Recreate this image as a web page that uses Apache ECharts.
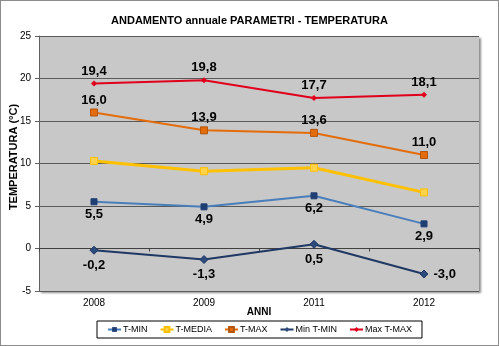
<!DOCTYPE html>
<html>
<head>
<meta charset="utf-8">
<script src="https://cdn.jsdelivr.net/npm/echarts@6/dist/echarts.min.js"></script>
<style>
  html, body { margin: 0; padding: 0; background: #fff; }
  #chart { width: 497px; height: 344px; border: 1px solid #8c8c8c; }
</style>
</head>
<body>
<div id="chart"></div>
<script>
// Annual temperature parameters (°C)
const anni = ['2008', '2009', '2011', '2012'];
const tMin = [5.5, 4.9, 6.2, 2.9];
const tMedia = [10.3, 9.1, 9.5, 6.6];
const tMax = [16.0, 13.9, 13.6, 11.0];
const minTMin = [-0.2, -1.3, 0.5, -3.0];
const maxTMax = [19.4, 19.8, 17.7, 18.1];
const yTicks = { min: -5, max: 25, step: 5 };

const FONT = 'Liberation Sans, Arial, sans-serif';
const fmt = p => p.value.toFixed(1).replace('.', ',');
const valueLabel = (position, distance) => ({
  show: true, position, distance, formatter: fmt,
  fontFamily: FONT, fontWeight: 'bold', fontSize: 13, color: '#000'
});

// The last Min T-MIN value sits at the right of its marker
const minTMinData = minTMin.map((v, i) => i === minTMin.length - 1
  ? { value: v, label: { position: 'right', distance: 5 } }
  : v);

const chart = echarts.init(document.getElementById('chart'));
chart.setOption({
  animation: false,
  backgroundColor: '#fff',
  textStyle: { fontFamily: FONT },
  title: {
    text: 'ANDAMENTO annuale PARAMETRI - TEMPERATURA',
    left: 'center', top: 9,
    textStyle: { fontFamily: FONT, fontWeight: 'bold', fontSize: 11, color: '#000' }
  },
  // vertical axis title, placed beside the value axis
  graphic: [{
    type: 'text', x: 13, y: 156, rotation: Math.PI / 2,
    style: {
      text: 'TEMPERATURA (°C)', fill: '#000',
      font: 'bold 11px Liberation Sans, Arial, sans-serif',
      align: 'center', verticalAlign: 'middle'
    }
  }],
  grid: {
    left: 38, right: 19, top: 35, bottom: 54,
    outerBoundsMode: 'none', containLabel: false,
    show: true, backgroundColor: '#c8c8c8', borderWidth: 0,
    shadowColor: 'rgba(0,0,0,0.45)', shadowBlur: 2, shadowOffsetX: 2, shadowOffsetY: 2
  },
  legend: {
    bottom: 7, left: 96,
    padding: [4, 10, 4, 10],
    borderColor: '#000', borderWidth: 1,
    itemWidth: 13, itemHeight: 6, itemGap: 12,
    textStyle: { fontFamily: FONT, fontSize: 9, color: '#000', padding: [0, 0, 0, -3] },
    data: ['T-MIN', 'T-MEDIA', 'T-MAX', 'Min T-MIN', 'Max T-MAX']
  },
  xAxis: [
    {
      type: 'category', data: anni, position: 'bottom',
      name: 'ANNI', nameLocation: 'middle', nameGap: 16, nameMoveOverlap: false,
      nameTextStyle: { fontFamily: FONT, fontWeight: 'bold', fontSize: 10, color: '#000' },
      axisLine: { show: false, onZero: false },
      axisTick: { show: false },
      axisLabel: { fontFamily: FONT, fontSize: 10, color: '#000', margin: 7 }
    },
    {
      type: 'category', data: anni, position: 'bottom',
      axisLine: { show: true, onZero: true, lineStyle: { color: '#404040', width: 1 } },
      axisTick: { show: true, inside: false, length: 3, lineStyle: { color: '#404040' } },
      axisLabel: { show: false }
    }
  ],
  yAxis: {
    type: 'value', min: yTicks.min, max: yTicks.max, interval: yTicks.step,
    axisLine: { show: true, lineStyle: { color: '#606060' } },
    axisTick: { show: true, length: 4, lineStyle: { color: '#606060' } },
    axisLabel: { fontFamily: FONT, fontSize: 10, color: '#000', margin: 8 },
    splitLine: { lineStyle: { color: '#5a5a5a', width: 1 } }
  },
  series: [
    {
      name: 'T-MIN', type: 'line', data: tMin,
      symbol: 'rect', symbolSize: 6,
      lineStyle: { color: '#4a7ebb', width: 2 },
      itemStyle: { color: '#1f3f74', borderColor: '#1f3f74' },
      label: valueLabel('bottom', 3)
    },
    {
      name: 'T-MEDIA', type: 'line', data: tMedia,
      symbol: 'rect', symbolSize: 7,
      lineStyle: { color: '#ffc000', width: 3 },
      itemStyle: { color: '#ffd24d', borderColor: '#ffc000', borderWidth: 1 }
    },
    {
      name: 'T-MAX', type: 'line', data: tMax,
      symbol: 'rect', symbolSize: 7,
      lineStyle: { color: '#e46c0a', width: 2 },
      itemStyle: { color: '#e46c0a', borderColor: '#b3550a', borderWidth: 1 },
      label: valueLabel('top', 2)
    },
    {
      name: 'Min T-MIN', type: 'line', data: minTMinData,
      symbol: 'diamond', symbolSize: 8,
      lineStyle: { color: '#1f3864', width: 2 },
      itemStyle: { color: '#2c4a7c', borderColor: '#1f3864' },
      label: valueLabel('bottom', 4)
    },
    {
      name: 'Max T-MAX', type: 'line', data: maxTMax,
      symbol: 'diamond', symbolSize: 6,
      lineStyle: { color: '#e0001b', width: 2 },
      itemStyle: { color: '#e0001b' },
      label: valueLabel('top', 3)
    }
  ]
});
</script>
</body>
</html>
